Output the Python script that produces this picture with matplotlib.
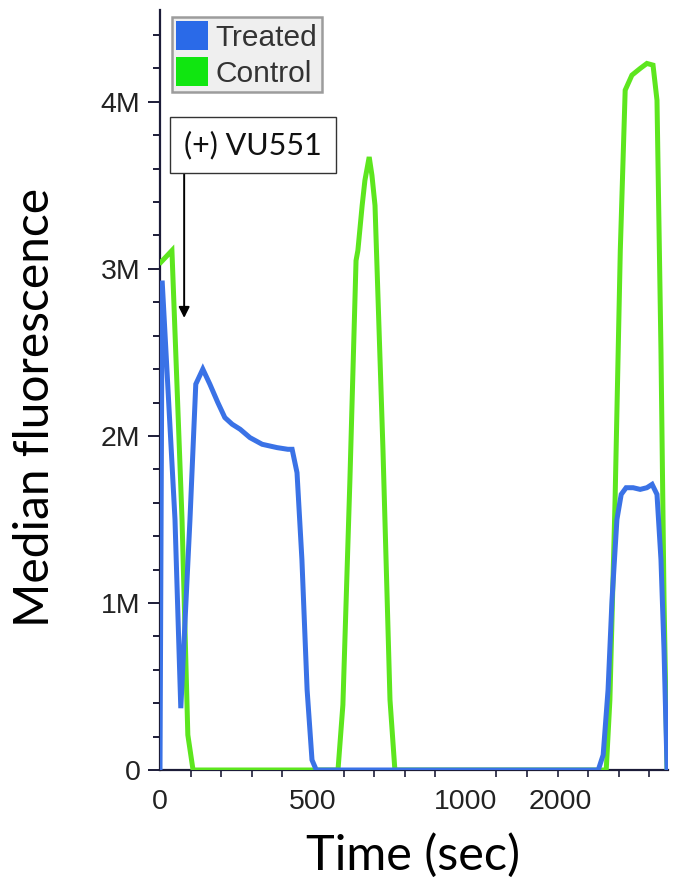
import matplotlib
matplotlib.use("Agg")
import matplotlib.pyplot as plt
from matplotlib.patches import Patch
from matplotlib.ticker import FixedLocator, MultipleLocator

# ---- data (time in sec on the chart's own scale, fluorescence in millions) ----
control_t = [3, 39, 72, 91, 108, 582, 598, 621, 641, 647, 661, 670, 684, 693, 703,
             729, 752, 768, 1459, 1471, 1488, 1505, 1521, 1543, 1570, 1592, 1612,
             1625, 1638, 1648, 1658]
control_v = [3.04, 3.11, 1.50, 0.21, 0.0, 0.0, 0.39, 1.74, 3.05, 3.11, 3.38, 3.53,
             3.67, 3.56, 3.38, 1.92, 0.42, 0.0, 0.0, 0.42, 1.62, 3.11, 4.07, 4.16,
             4.20, 4.23, 4.22, 4.01, 2.51, 1.02, 0.0]

treated_t = [0, 7, 49, 68, 98, 117, 140, 163, 189, 212, 236, 262, 294, 334, 383,
             418, 432, 448, 464, 481, 497, 511, 1433, 1449, 1465, 1478, 1494, 1508,
             1524, 1547, 1570, 1592, 1609, 1625, 1638, 1648, 1658]
treated_v = [0.0, 2.93, 1.50, 0.37, 1.50, 2.31, 2.40, 2.31, 2.20, 2.11, 2.07, 2.04,
             1.99, 1.95, 1.93, 1.92, 1.92, 1.78, 1.26, 0.48, 0.06, 0.0, 0.0, 0.09,
             0.48, 1.02, 1.50, 1.65, 1.69, 1.69, 1.68, 1.69, 1.71, 1.65, 1.26, 0.72, 0.0]

y_ticks = [0, 1, 2, 3, 4]
y_labels = ["0", "1M", "2M", "3M", "4M"]
x_tick_pos = [0, 500, 1000, 1310]
x_labels = ["0", "500", "1000", "2000"]
series_names = ["Treated", "Control"]

BLUE = "#3a72e6"
GREEN = "#5de61e"
SPINE = "#1c1c38"

fig = plt.figure(figsize=(6.76, 8.86), dpi=100)
ax = fig.add_axes([160/676, 1-770/886, (668-160)/676, (770-10)/886])

ax.plot(control_t, control_v, color=GREEN, lw=3.6, solid_joinstyle="miter", zorder=3)
ax.plot(treated_t, treated_v, color=BLUE, lw=3.6, solid_joinstyle="miter", zorder=4)

ax.set_xlim(0, 1661)
ax.set_ylim(0, 4.55)

for s in ["top", "right"]:
    ax.spines[s].set_visible(False)
for s in ["left", "bottom"]:
    ax.spines[s].set_color(SPINE)
    ax.spines[s].set_linewidth(1.6)

tick_font = dict(family="Liberation Sans", size=20.5)
ax.set_yticks(y_ticks)
ax.set_yticklabels(y_labels, **tick_font, color="#222222")
ax.yaxis.set_minor_locator(MultipleLocator(0.2))
ax.tick_params(axis="y", which="major", direction="out", length=9, width=1.4,
               color=SPINE, pad=5)
ax.tick_params(axis="y", which="minor", direction="out", length=5, width=1.4,
               color=SPINE)

ax.set_xticks(x_tick_pos)
ax.set_xticklabels(x_labels, **tick_font, color="#222222")
ax.xaxis.set_minor_locator(FixedLocator(list(range(0, 1601, 100))))
ax.tick_params(axis="x", which="major", length=0, pad=14)
ax.tick_params(axis="x", which="minor", direction="out", length=5, width=1.2,
               color=SPINE)

# legend
handles = [Patch(facecolor="#2a6ae8", edgecolor="none"),
           Patch(facecolor="#10e610", edgecolor="none")]
leg = ax.legend(handles, series_names, loc="upper left",
                bbox_to_anchor=(172/676, 1-17/886), bbox_transform=fig.transFigure,
                borderaxespad=0, frameon=True, fancybox=False,
                prop=dict(family="Liberation Sans", size=21.5),
                handlelength=1.05, handleheight=1.1, handletextpad=0.25,
                labelspacing=0.18, borderpad=0.15)
leg.get_frame().set_facecolor("#ebebeb")
leg.get_frame().set_edgecolor("#858585")
leg.get_frame().set_linewidth(1.8)
for t in leg.get_texts():
    t.set_color("#333333")

# annotation
ax.annotate("", xy=(79, (770-318)/167), xytext=(79, (770-172)/167),
            arrowprops=dict(arrowstyle="-|>", color="black", lw=1.4,
                            mutation_scale=16, shrinkA=0, shrinkB=0))
ax.text((253-160)*3.27, (770-145)/167, "(+) VU551", family="Lato", size=22,
        ha="center", va="center", color="#111111",
        bbox=dict(boxstyle="square,pad=0.45", facecolor="white",
                  edgecolor="#333333", lw=1.0), zorder=6)

fig.text(35/676, 1-407/886, "Median fluorescence", family="Lato", size=34.5,
         rotation=90, ha="center", va="center", color="black")
fig.text(413/676, 1-855/886, "Time (sec)", family="Lato", size=35,
         ha="center", va="center", color="black")

fig.savefig("out.png", dpi=100)
